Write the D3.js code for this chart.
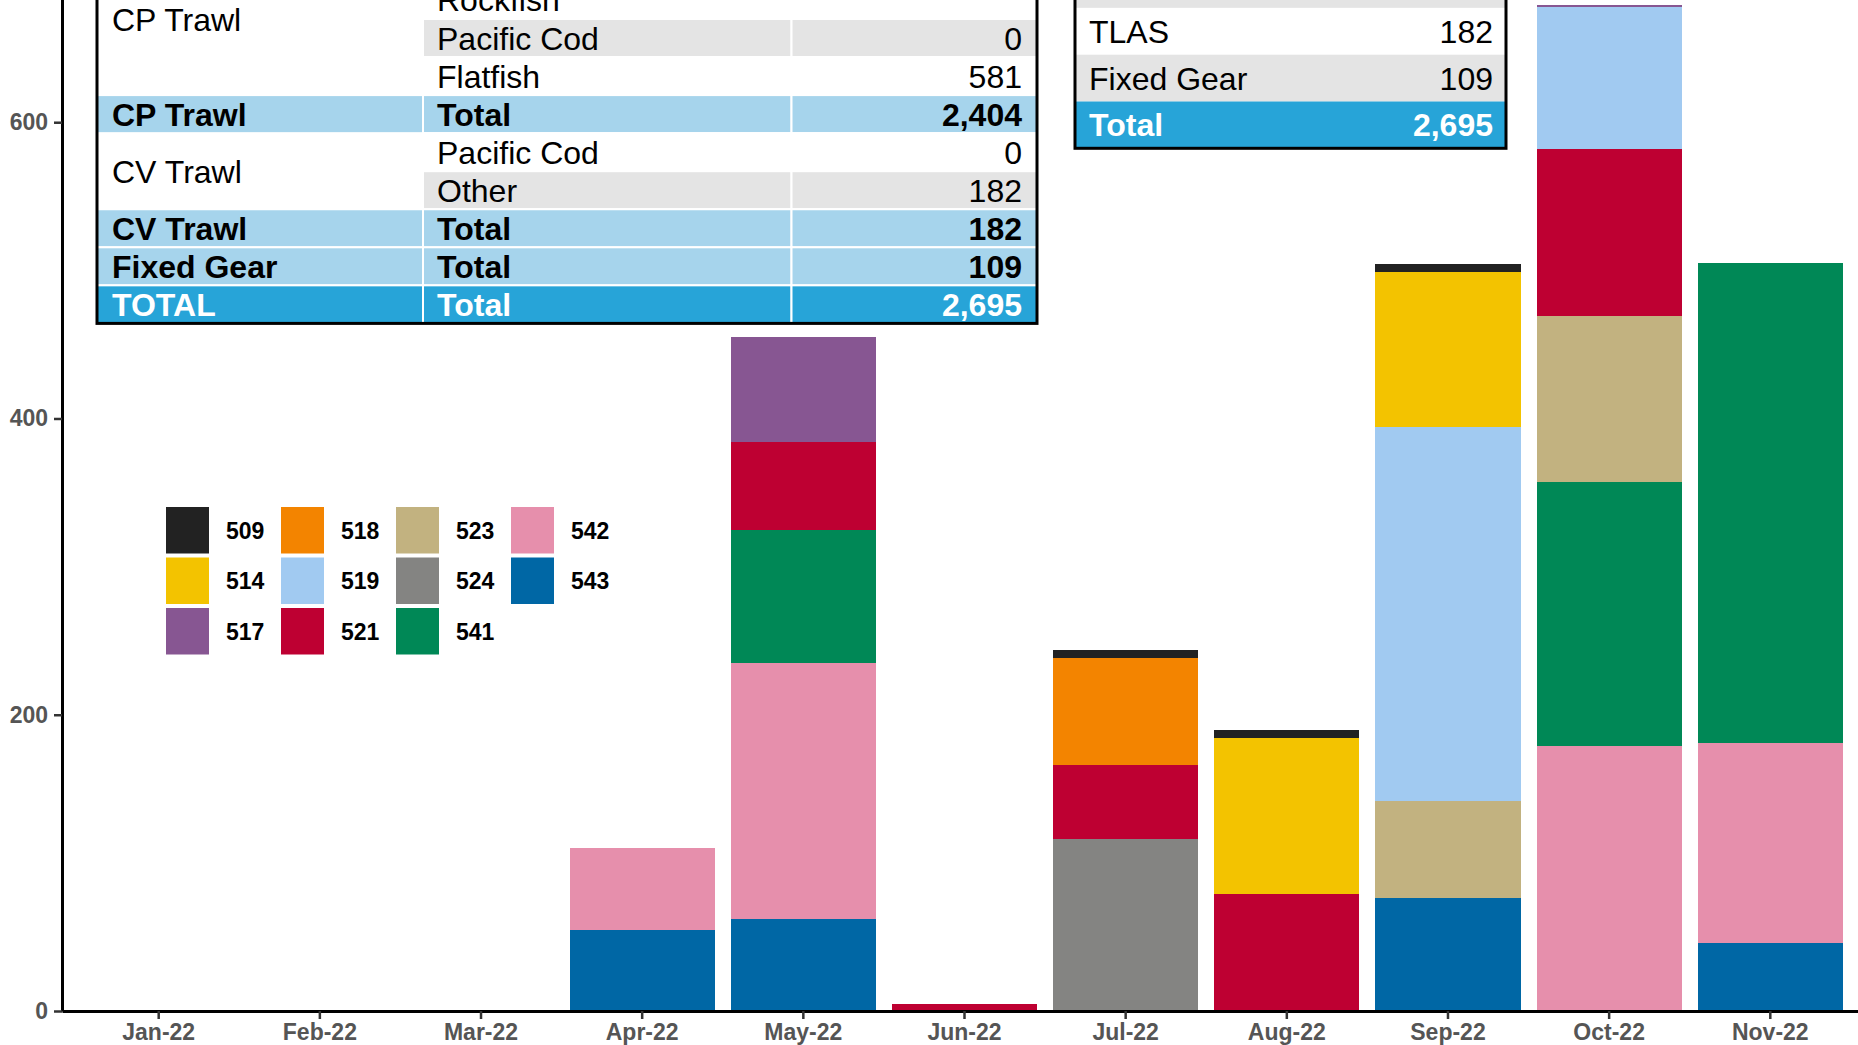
<!DOCTYPE html>
<html>
<head>
<meta charset="utf-8">
<script src="https://cdn.jsdelivr.net/npm/d3@7/dist/d3.min.js"></script>
<style>
  html, body { margin: 0; padding: 0; background: #fff; }
  svg { display: block; font-family: "Liberation Sans", Arial, sans-serif; }
</style>
</head>
<body>
<svg id="chart" width="1858" height="1045"></svg>
<script>
// Months on the x axis
const months = ["Jan-22","Feb-22","Mar-22","Apr-22","May-22","Jun-22","Jul-22","Aug-22","Sep-22","Oct-22","Nov-22"];

// Reporting areas and their colours
const areaCodes  = ["509","514","517","518","519","521","523","524","541","542","543"];
const areaColors = ["#222222","#F3C300","#875692","#F38400","#A1CAF1","#BE0032","#C2B280","#848482","#008856","#E68FAC","#0067A5"];

// Monthly amounts by area (Jan..Nov)
const a509 = [0,0,0,0,0,0,6,6,5,0,0];
const a514 = [0,0,0,0,0,0,0,105,105,0,0];
const a517 = [0,0,0,0,71,0,0,0,0,1,0];
const a518 = [0,0,0,0,0,0,72,0,0,0,0];
const a519 = [0,0,0,0,0,0,0,0,252,96,0];
const a521 = [0,0,0,0,59,5,50,79,0,113,0];
const a523 = [0,0,0,0,0,0,0,0,66,112,0];
const a524 = [0,0,0,0,0,0,116,0,0,0,0];
const a541 = [0,0,0,0,90,0,0,0,0,178,324];
const a542 = [0,0,0,55,173,0,0,0,0,179,135];
const a543 = [0,0,0,55,62,0,0,0,76,0,46];

const yTicks = [0, 200, 400, 600];

// Sector / species summary table (first row sits above the top edge)
const sectorLabels  = ["CP Trawl","","","","CP Trawl","CV Trawl","","CV Trawl","Fixed Gear","TOTAL"];
const speciesLabels = ["","Rockfish","Pacific Cod","Flatfish","Total","Pacific Cod","Other","Total","Total","Total"];
const speciesValues = ["","","0","581","2,404","0","182","182","109","2,695"];
const rowKinds      = ["gray","white","gray","white","sub","white","gray","sub","sub","grand"];

// Sector totals table (first row sits above the top edge)
const totalLabels = ["","TLAS","Fixed Gear","Total"];
const totalValues = ["","182","109","2,695"];
const totalKinds  = ["gray","white","gray","grand"];

// ---------------------------------------------------------------
const series = [a509,a514,a517,a518,a519,a521,a523,a524,a541,a542,a543];
const rows = months.map((m, i) => {
  const r = { month: m };
  areaCodes.forEach((c, k) => r[c] = series[k][i]);
  return r;
});
const color = d3.scaleOrdinal().domain(areaCodes).range(areaColors);

const svg = d3.select("#chart");
const W = 1858, H = 1045;
svg.append("rect").attr("width", W).attr("height", H).attr("fill", "#fff");

const axisX = 62, baseY = 1011, pxPerUnit = 1.4813;
const x = d3.scaleBand().domain(months).range([axisX, 1867]).paddingInner(0.1).paddingOuter(0.15);
const y = d3.scaleLinear().domain([0, 700]).range([baseY, baseY - 700 * pxPerUnit]);

// stacked bars: highest area code sits on the bottom
const stack = d3.stack().keys(areaCodes.slice().reverse());
const layers = stack(rows);

svg.append("g").selectAll("g").data(layers).join("g")
  .attr("fill", d => color(d.key))
  .selectAll("rect").data(d => d).join("rect")
  .attr("x", d => x(d.data.month))
  .attr("width", x.bandwidth())
  .attr("y", d => y(d[1]))
  .attr("height", d => Math.max(0, y(d[0]) - y(d[1])))
  .attr("shape-rendering", "crispEdges");

// axes
const gx = svg.append("g").attr("transform", `translate(0,${baseY})`)
  .call(d3.axisBottom(x).tickSize(8).tickSizeOuter(0).tickPadding(5));
const gy = svg.append("g").attr("transform", `translate(${axisX},0)`)
  .call(d3.axisLeft(y).tickValues(yTicks).tickSize(8).tickSizeOuter(0).tickPadding(6));
[gx, gy].forEach(g => {
  g.select(".domain").attr("stroke", "#000").attr("stroke-width", 3);
  g.selectAll(".tick line").attr("stroke", "#333").attr("stroke-width", 2.5);
  g.selectAll(".tick text").attr("fill", "#555").attr("font-size", 23)
    .attr("font-weight", "bold").attr("font-family", "'Liberation Sans', Arial, sans-serif");
});

// legend
const legend = svg.append("g");
const lgX = 166, lgY = 507, colPitch = 115, rowPitch = 50.5;
areaCodes.forEach((c, i) => {
  const col = Math.floor(i / 3), row = i % 3;
  const gx0 = lgX + col * colPitch, gy0 = lgY + row * rowPitch;
  legend.append("rect").attr("x", gx0).attr("y", gy0).attr("width", 43).attr("height", 46.5)
    .attr("fill", color(c));
  legend.append("text").attr("x", gx0 + 60).attr("y", gy0 + 23.5 + 8)
    .attr("font-size", 23).attr("font-weight", "bold").attr("fill", "#000").text(c);
});

// tables
const fills = { white: "#FFFFFF", gray: "#E4E4E4", sub: "#A6D4EC", grand: "#27A4D8" };

function sectorTable() {
  const g = svg.append("g");
  const cols = [97, 423, 791.5, 1037];
  const pitch = 38.05, top0 = 19 - 2 * pitch;
  const rowTop = i => top0 + i * pitch;
  rowKinds.forEach((k, i) => {
    const isTot = k === "sub" || k === "grand";
    // first column: merged white cells for detail rows, coloured for totals
    g.append("rect").attr("x", cols[0]).attr("y", rowTop(i)).attr("width", cols[1] - cols[0])
      .attr("height", pitch).attr("fill", isTot ? fills[k] : "#fff")
      .attr("stroke", isTot ? "#fff" : "none").attr("stroke-width", 2);
    for (let c = 1; c < 3; c++) {
      g.append("rect").attr("x", cols[c]).attr("y", rowTop(i)).attr("width", cols[c + 1] - cols[c])
        .attr("height", pitch).attr("fill", fills[k]).attr("stroke", "#fff").attr("stroke-width", 2);
    }
  });
  // merged group labels
  const groups = [{ label: "CP Trawl", from: 0, to: 3 }, { label: "CV Trawl", from: 5, to: 6 }];
  groups.forEach(gr => {
    const cy = (rowTop(gr.from) + rowTop(gr.to + 1)) / 2;
    g.append("text").attr("x", cols[0] + 15).attr("y", cy + 11.5)
      .attr("font-size", 32).attr("fill", "#000").text(gr.label);
  });
  rowKinds.forEach((k, i) => {
    const isTot = k === "sub" || k === "grand";
    const cy = rowTop(i) + pitch / 2 + 11.5;
    const fill = k === "grand" ? "#fff" : "#000";
    const weight = isTot ? "bold" : "normal";
    if (isTot) g.append("text").attr("x", cols[0] + 15).attr("y", cy).attr("font-size", 32)
      .attr("font-weight", weight).attr("fill", fill).text(sectorLabels[i]);
    if (speciesLabels[i]) g.append("text").attr("x", cols[1] + 14).attr("y", cy).attr("font-size", 32)
      .attr("font-weight", weight).attr("fill", fill).text(speciesLabels[i]);
    if (speciesValues[i]) g.append("text").attr("x", cols[3] - 15).attr("y", cy).attr("font-size", 32)
      .attr("text-anchor", "end").attr("font-weight", weight).attr("fill", fill).text(speciesValues[i]);
  });
  g.append("rect").attr("x", cols[0]).attr("y", rowTop(0)).attr("width", cols[3] - cols[0])
    .attr("height", rowTop(10) - rowTop(0)).attr("fill", "none").attr("stroke", "#000").attr("stroke-width", 3);
}

function totalsTable() {
  const g = svg.append("g");
  const left = 1075, right = 1506, pitch = 46.8, top0 = 101.5 - 3 * pitch;
  const rowTop = i => top0 + i * pitch;
  totalKinds.forEach((k, i) => {
    g.append("rect").attr("x", left).attr("y", rowTop(i)).attr("width", right - left).attr("height", pitch)
      .attr("fill", fills[k]);
    const cy = rowTop(i) + pitch / 2 + 11.5;
    const isG = k === "grand";
    if (totalLabels[i]) g.append("text").attr("x", left + 14).attr("y", cy).attr("font-size", 32)
      .attr("font-weight", isG ? "bold" : "normal").attr("fill", isG ? "#fff" : "#000").text(totalLabels[i]);
    if (totalValues[i]) g.append("text").attr("x", right - 13).attr("y", cy).attr("font-size", 32).attr("text-anchor", "end")
      .attr("font-weight", isG ? "bold" : "normal").attr("fill", isG ? "#fff" : "#000").text(totalValues[i]);
  });
  g.append("rect").attr("x", left).attr("y", rowTop(0)).attr("width", right - left)
    .attr("height", rowTop(4) - rowTop(0)).attr("fill", "none").attr("stroke", "#000").attr("stroke-width", 3);
}

sectorTable();
totalsTable();
</script>
</body>
</html>
